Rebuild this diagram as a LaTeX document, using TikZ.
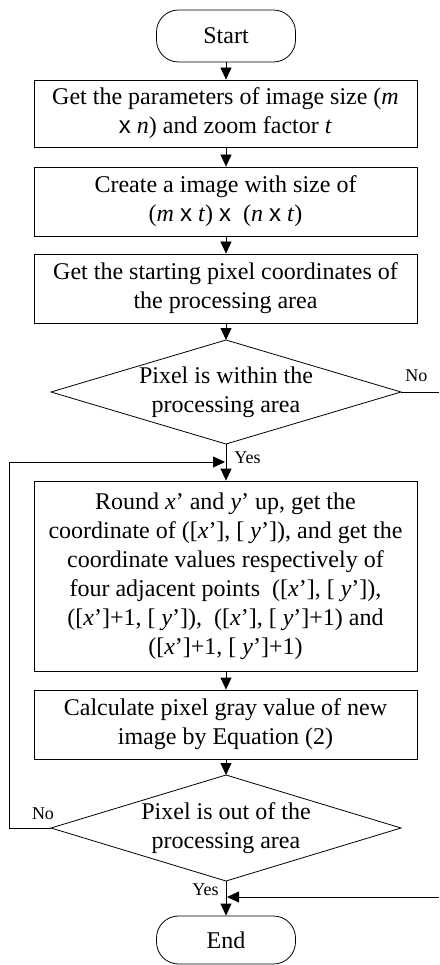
\documentclass[tikz,border=0pt]{standalone}
\usepackage{fontspec}
\setmainfont{Liberation Serif}
\setsansfont{Liberation Sans}
\usetikzlibrary{arrows.meta}
\newcommand{\mulx}{{\sffamily x}}
\begin{document}
\begin{tikzpicture}[x=1pt,y=-1pt,
  line width=0.8pt,
  every node/.style={font=\fontsize{24}{29}\selectfont},
  box/.style={draw, minimum width=383pt, minimum height=#1, align=center, inner sep=0pt},
  term/.style={draw, rounded corners=22pt, minimum width=139pt, minimum height=#1, inner sep=0pt},
  lbl/.style={font=\fontsize{18}{21}\selectfont, inner sep=0pt},
  arr/.style={-{Triangle[length=12pt,width=11pt]}}
]
\useasboundingbox (0,0) rectangle (439,965);

\node[term=52pt] (start) at (226,36) {Start};
\node[box=67pt] (b1) at (225.5,113.5) {Get the parameters of image size (\textit{m}\\ \mulx\ \textit{n}) and zoom factor \textit{t}};
\node[box=69pt] (b2) at (225.5,201.5) {Create a image with size of\\ (\textit{m} \mulx\ \textit{t}) \mulx\ \ (\textit{n} \mulx\ \textit{t})};
\node[box=69pt] (b3) at (225.5,288.5) {Get the starting pixel coordinates of\\ the processing area};

% diamond 1
\node[align=center, inner sep=0pt] (d1) at (226,392) {Pixel is within the\\ processing area};
\coordinate (d1n) at (226,340);
\coordinate (d1s) at (226,444);
\coordinate (d1w) at (51,392);
\coordinate (d1e) at (401,392);
\draw (d1n) -- (d1e) -- (d1s) -- (d1w) -- cycle;

\node[box=190pt] (b4) at (225.5,576) {Round \textit{x}’ and \textit{y}’ up, get the\\ coordinate of ([\textit{x}’], [ \textit{y}’]), and get the\\ coordinate values respectively of\\ four adjacent points\ \ ([\textit{x}’], [ \textit{y}’]),\\ ([\textit{x}’]+1, [ \textit{y}’]),\ \ ([\textit{x}’], [ \textit{y}’]+1) and\\ ([\textit{x}’]+1, [ \textit{y}’]+1)};
\node[box=69pt] (b5) at (225.5,724.5) {Calculate pixel gray value of new\\ image by Equation (2)};

% diamond 2
\node[align=center, inner sep=0pt] (d2) at (226,828) {Pixel is out of the\\ processing area};
\coordinate (d2n) at (226,775);
\coordinate (d2s) at (226,881);
\coordinate (d2w) at (51,828);
\coordinate (d2e) at (401,828);
\draw (d2n) -- (d2e) -- (d2s) -- (d2w) -- cycle;

\node[term=48pt] (end) at (226,940) {End};

% connectors
\draw[arr] (start.south) -- (b1.north -| start.south);
\draw[arr] (b1.south -| start.south) -- (b2.north -| start.south);
\draw[arr] (b2.south -| start.south) -- (b3.north -| start.south);
\draw[arr] (b3.south -| start.south) -- (d1n);
\draw[arr] (d1s) -- (b4.north -| d1s);
\draw[arr] (b4.south -| d1s) -- (b5.north -| d1s);
\draw[arr] (b5.south -| d1s) -- (d2n);
\draw[arr] (d2s) -- (end.north);

% No from diamond 1
\coordinate (r1) at (439,392);
\draw (d1e) -- (r1);
\node[lbl, anchor=south west] (no1) at (405,382) {No};
% Yes under diamond 1
\node[lbl, anchor=west] (yes1) at (234,458) {Yes};

% loop back
\coordinate (l1) at (9,828);
\coordinate (l2) at (9,462);
\coordinate (l3) at (225,462);
\draw[arr] (d2w) -- (l1) -- (l2) -- (l3);
\node[lbl, anchor=south] (no2) at (43,820) {No};
\node[lbl, anchor=east] (yes2) at (219,890) {Yes};

% from right into end
\coordinate (r2) at (439,897);
\coordinate (r3) at (227,897);
\draw[arr] (r2) -- (r3);
\end{tikzpicture}
\end{document}
